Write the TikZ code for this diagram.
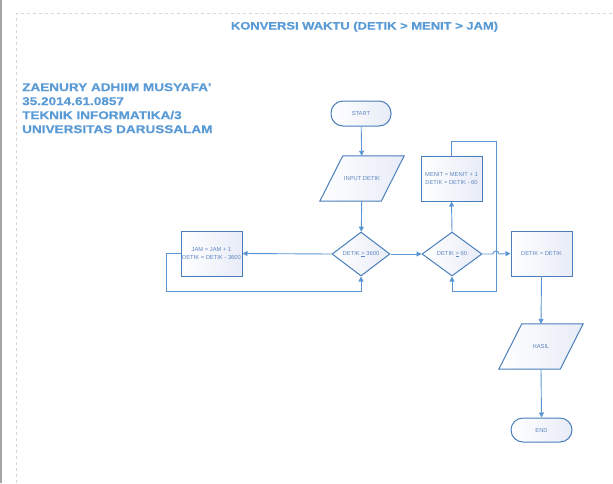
\documentclass[tikz,border=0pt]{standalone}
\usepackage{fontspec}
\setmainfont{Liberation Sans}
\newfontfamily\headfont[FakeStretch=1.2,FakeBold=0.6]{Liberation Sans}
\usetikzlibrary{shapes.geometric,arrows.meta,calc,backgrounds}
\definecolor{bordc}{RGB}{74,126,187}
\definecolor{linec}{RGB}{91,150,210}
\definecolor{headc}{RGB}{91,155,213}
\definecolor{txtc}{RGB}{95,135,195}
\definecolor{fillc}{RGB}{232,236,247}
\definecolor{pagec}{RGB}{165,165,165}
\definecolor{marginc}{RGB}{215,215,215}
\tikzset{
  shapefill/.style={draw=bordc, line width=1pt, left color=white, right color=fillc},
  base/.style={shapefill, text=txtc, font=\fontsize{5.8}{8}\selectfont, align=center, inner sep=0pt},
  terminal/.style={base, rectangle, rounded corners=12pt, minimum width=60pt, minimum height=25pt},
  process/.style={base, rectangle, minimum width=61pt, minimum height=45pt},
  decision/.style={base, diamond, aspect=1.35, minimum width=58pt, minimum height=44pt},
  iobox/.style={rectangle, text=txtc, font=\fontsize{5.8}{8}\selectfont, align=center,
    inner sep=0pt, minimum width=61pt, minimum height=45pt},
  conn/.style={draw=linec, line width=0.9pt},
  arr/.style={conn, -{Triangle[length=5pt,width=5pt]}},
  head/.style={text=headc, font=\headfont\bfseries\fontsize{10.8}{14}\selectfont, inner sep=0pt}
}
\begin{document}
\begin{tikzpicture}[x=1pt,y=-1pt]
\useasboundingbox (0,0) rectangle (613,483);
% page frame
\draw[pagec, line width=1.5pt] (1,0) -- (1,483);
\draw[marginc, dashed, line width=0.8pt] (16,483) -- (16,13.5) -- (613,13.5);
% headings
\node[head, anchor=base] (title) at (364.5,29.5) {KONVERSI WAKTU (DETIK > MENIT > JAM)};
\node[head, font=\headfont\bfseries\fontsize{11.3}{14}\selectfont, anchor=north west, align=left] (author) at (22,83)
  {ZAENURY ADHIIM MUSYAFA'\\35.2014.61.0857\\TEKNIK INFORMATIKA/3\\UNIVERSITAS DARUSSALAM};
% nodes
\node[terminal] (start) at (361,113.5) {START};
\node[iobox] (input) at (362,178.5) {INPUT DETIK};
\node[decision] (d3600) at (361,254) {DETIK \underline{>} 3600};
\node[process] (jam) at (211.5,253.5) {JAM = JAM + 1\\DETIK = DETIK - 3600};
\node[decision, minimum width=60pt] (d60) at (452,254) {DETIK \underline{>} 60};
\node[process] (menit) at (451.5,178.5) {MENIT = MENIT + 1\\DETIK = DETIK - 60};
\node[process] (detik) at (541.5,253.5) {DETIK = DETIK};
\node[iobox] (hasil) at (541,346.5) {HASIL};
\node[terminal, minimum width=61pt, minimum height=24pt] (end) at (541.5,430) {END};
% parallelogram outlines for the input/output nodes
\begin{scope}[on background layer]
\foreach \n in {input,hasil}{
  \path[shapefill] ($(\n.north west)+(11.5,0)$) -- ($(\n.north east)+(11.5,0)$)
    -- ($(\n.south east)+(-11.5,0)$) -- ($(\n.south west)+(-11.5,0)$) -- cycle;
}
\end{scope}
% helper coordinates
\coordinate (c1) at (166,291);
\coordinate (c2) at (496,141);
\coordinate (c3) at (496,291);
\coordinate (j1) at (493,254);
% connectors
\draw[arr] (start) -- (input);
\draw[arr] (input) -- (d3600);
\draw[arr] (d3600.west) -- (jam.east);
\draw[arr] (jam.west) -| (c1) -| (d3600.south);
\draw[arr] (d3600.east) -- (d60.west);
\draw[arr] (d60.north) -- (menit.south);
\draw[arr] (menit.north) |- (c2) -- (c3) -| (d60.south);
\draw[arr] (d60.east) -- (j1) arc[start angle=180, end angle=0, radius=3pt] -- (detik.west);
\draw[arr] (detik.south) -- (hasil.north);
\draw[arr] (hasil.south) -- (end.north);
\end{tikzpicture}
\end{document}
